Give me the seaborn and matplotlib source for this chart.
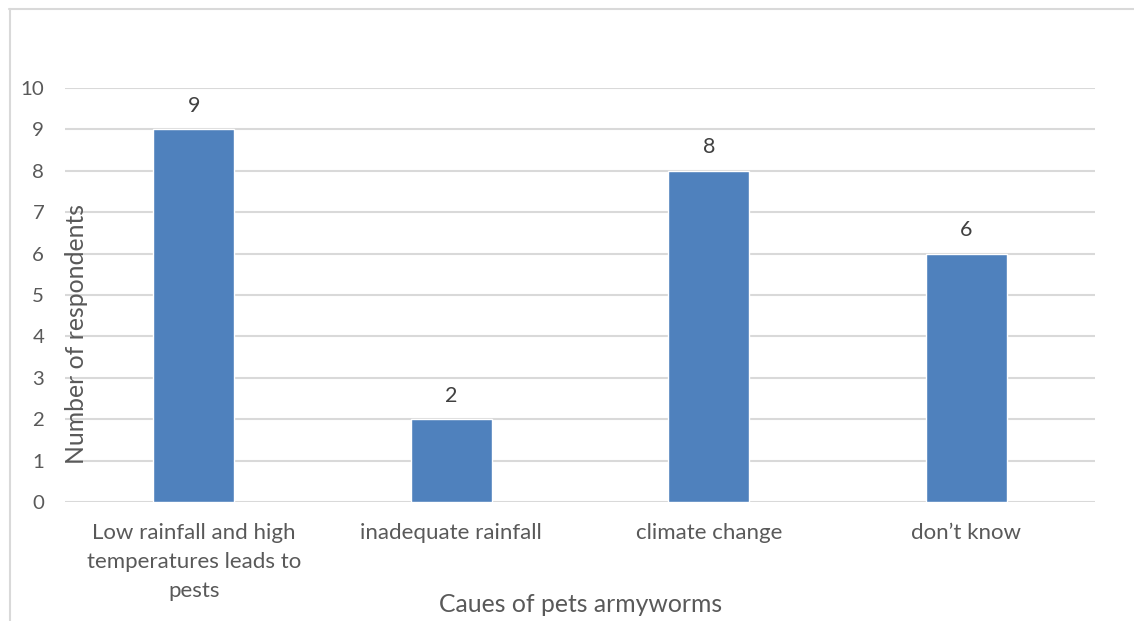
import matplotlib
matplotlib.use("Agg")
import matplotlib.pyplot as plt
import seaborn as sns
import pandas as pd

categories = ["Low rainfall and high\ntemperatures leads to\npests",
              "inadequate rainfall", "climate change", "don\u2019t know"]
respondents = [9, 2, 8, 6]
y_ticks = list(range(0, 11))

df = pd.DataFrame({"cause": categories, "count": respondents})

sns.set_theme(style="white")
plt.rcParams["font.family"] = ["Lato", "DejaVu Sans"]

W, H = 1134, 621
fig = plt.figure(figsize=(W / 100, H / 100), dpi=100)
ax = fig.add_axes([65 / W, 1 - 502 / H, (1095 - 65) / W, (502 - 88) / H])

sns.barplot(data=df, x="cause", y="count", color="#4F81BD", width=0.315,
            saturation=1, ax=ax, zorder=3)

ax.set_ylim(0, 10)
ax.set_xlim(-0.5, len(categories) - 0.5)
ax.set_yticks(y_ticks)
ax.yaxis.grid(True, color="#d9d9d9", linewidth=1.5, zorder=0)
ax.set_axisbelow(True)
for s in ax.spines.values():
    s.set_visible(False)
ax.tick_params(axis="y", length=0, pad=15, labelsize=14.7, labelcolor="#595959")
ax.tick_params(axis="x", length=0, pad=15, labelsize=16, labelcolor="#595959")
for lbl in ax.get_xticklabels():
    lbl.set_linespacing(1.58)

for i, v in enumerate(respondents):
    ax.text(i, v + 0.33, str(v), ha="center", va="bottom", fontsize=15.5,
            color="#404040")

ax.set_xlabel("")
ax.set_ylabel("")
fig.text(76 / W, 1 - 334 / H, "Number of respondents", rotation=90,
         ha="center", va="center", fontsize=17.8, color="#595959")
fig.text(581 / W, 1 - 605 / H, "Caues of pets armyworms", ha="center",
         va="center", fontsize=17.8, color="#595959")

# outer frame lines
fig.add_artist(plt.Line2D([9 / W, 1], [1 - 8.5 / H] * 2, color="#d9d9d9",
                          linewidth=1.5, transform=fig.transFigure))
fig.add_artist(plt.Line2D([9.5 / W] * 2, [0, 1 - 8.5 / H], color="#d9d9d9",
                          linewidth=1.5, transform=fig.transFigure))

fig.savefig("out.png", dpi=100)
